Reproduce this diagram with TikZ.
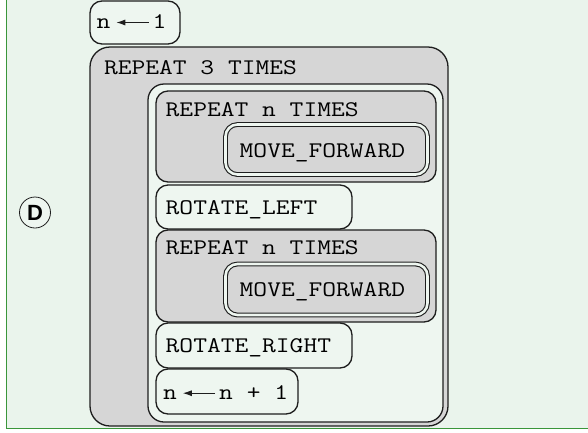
\documentclass[tikz,border=0pt]{standalone}
\usepackage{fontspec}
\setmonofont{Latin Modern Mono}[FakeStretch=1.2]
\newfontfamily\labelfont{Liberation Sans}
\usetikzlibrary{arrows.meta,calc}
\definecolor{bg}{HTML}{EAF4EC}
\definecolor{lite}{HTML}{EEF6F0}
\definecolor{grayfill}{HTML}{D6D6D6}
\definecolor{ink}{HTML}{1E1E1E}
\definecolor{frame}{HTML}{3A963A}
\begin{document}
\begin{tikzpicture}[x=1pt,y=-1pt,
  box/.style={draw=ink, line width=1.3pt, rounded corners=12pt, inner sep=0pt,
    outer sep=0pt, anchor=north west, fill=lite},
  graybox/.style={box, fill=grayfill},
  dbox/.style={draw=ink, double=lite, double distance=2.6pt, line width=1.1pt,
    rounded corners=12pt, inner sep=0pt, outer sep=0pt, anchor=north west},
  mono/.style={font=\ttfamily\fontsize{22.3}{27}\selectfont, inner sep=0pt,
    outer sep=0pt, anchor=base west},
  arr/.style={draw=ink, line width=1pt, -{Latex[length=9pt,width=6pt]}},
]
\useasboundingbox (0,0) rectangle (588,432);
% background
\fill[bg] (6.5,0) rectangle (588,428.5);
\draw[frame, line width=1.6pt] (6.5,0) -- (6.5,428.5) -- (588,428.5);

% n <- 1
\node[box, minimum width=90pt, minimum height=43pt] (initbox) at (90,1) {};
\node[mono] (ia) at (96.5,28.3) {n};
\node[mono] (ib) at (152.7,28.3) {1};
\draw[arr] ($(ib.base west)+(-4,-5.8)$) -- ($(ia.base east)+(6,-5.8)$);

% outer repeat
\node[graybox, rounded corners=20pt, minimum width=358pt, minimum height=379pt] (outer) at (90,47) {};
\node[mono] (t3) at (104,74) {REPEAT 3 TIMES};

% container
\node[box, rounded corners=16pt, minimum width=295pt, minimum height=338pt] (cont) at (148,84) {};

% repeat n #1
\node[graybox, minimum width=280pt, minimum height=91pt] (rep1) at (156,91) {};
\node[mono] (rep1t) at (165.7,116) {REPEAT n TIMES};
\node[dbox, minimum width=202pt, minimum height=50pt] (mf1) at (225.5,124.5) {};
\node[mono] (mf1t) at (239.7,157) {MOVE\_FORWARD};

% rotate left
\node[box, minimum width=196pt, minimum height=44pt] (rl) at (156,185) {};
\node[mono] (rlt) at (165.7,214) {ROTATE\_LEFT};

% repeat n #2
\node[graybox, minimum width=280pt, minimum height=92pt] (rep2) at (156,230) {};
\node[mono] (rep2t) at (165.7,254) {REPEAT n TIMES};
\node[dbox, minimum width=202pt, minimum height=51pt] (mf2) at (225.5,264) {};
\node[mono] (mf2t) at (239.7,296.7) {MOVE\_FORWARD};

% rotate right
\node[box, minimum width=196pt, minimum height=45pt] (rr) at (156,323) {};
\node[mono] (rrt) at (165.7,352.7) {ROTATE\_RIGHT};

% n <- n + 1
\node[box, minimum width=142pt, minimum height=45pt] (incbox) at (156,369) {};
\node[mono] (na) at (163,399) {n};
\node[mono] (nb) at (219.2,399) {n + 1};
\draw[arr] ($(nb.base west)+(-4,-5.8)$) -- ($(na.base east)+(6,-5.8)$);

% D marker
\node[circle, draw=ink, line width=0.8pt, minimum size=31pt, fill=lite, inner sep=0pt,
  font=\labelfont\bfseries\fontsize{22}{26}\selectfont] (D) at (35,212.5) {D};
\end{tikzpicture}
\end{document}
